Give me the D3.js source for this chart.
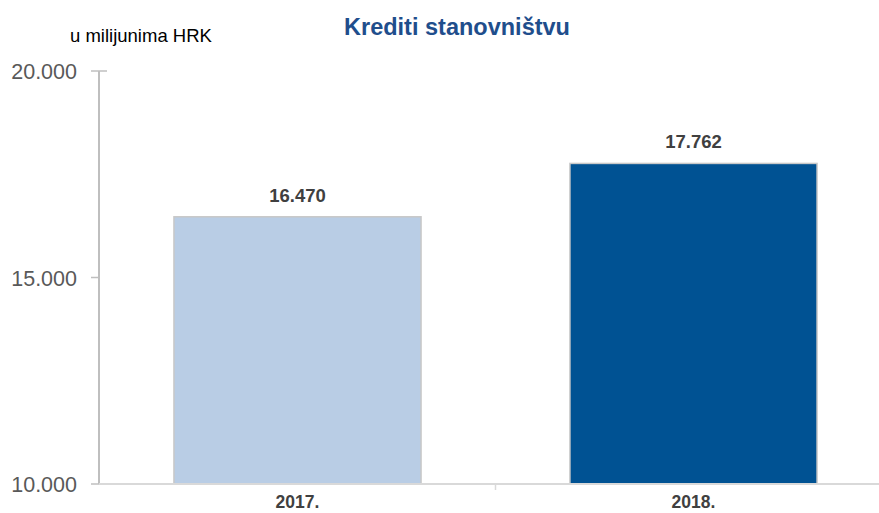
<!DOCTYPE html>
<html>
<head>
<meta charset="utf-8">
<script src="https://cdn.jsdelivr.net/npm/d3@7"></script>
<style>
  body { margin: 0; background: #fff; }
  text { font-family: "Liberation Sans", Arial, sans-serif; }
</style>
</head>
<body>
<svg id="chart"></svg>
<script>
const years = ['2017.', '2018.'];
const values = [16470, 17762];
const yTicks = [10000, 15000, 20000];
const barColors = ['#b9cde5', '#005293'];

const width = 879,
  height = 513,
  margin = {top: 71, right: -12, bottom: 29, left: 99};

const svg = d3.select('#chart')
  .attr('width', width)
  .attr('height', height);

const x = d3.scaleBand()
  .domain(years)
  .range([margin.left + 0.5, width - margin.right + 0.5]);

const y = d3.scaleLinear()
  .domain([10000, 20000])
  .range([height - margin.bottom, margin.top]);

const fmt = d => d3.format(',')(d).replace(/,/g, '.');

// y axis
svg.append('line')
  .attr('x1', margin.left).attr('x2', margin.left)
  .attr('y1', y(20000)).attr('y2', y(10000))
  .attr('stroke', '#bfbfbf')
  .attr('stroke-width', 2);

svg.selectAll('.ytick')
  .data(yTicks)
  .enter().append('line')
  .attr('x1', margin.left - 8)
  .attr('x2', d => d === 20000 ? margin.left + 8 : margin.left)
  .attr('y1', d => y(d)).attr('y2', d => y(d))
  .attr('stroke', '#bfbfbf')
  .attr('stroke-width', 1.5);

svg.selectAll('.ylabel')
  .data(yTicks)
  .enter().append('text')
  .attr('x', 77)
  .attr('y', d => y(d) + 8)
  .attr('text-anchor', 'end')
  .attr('fill', '#595959')
  .style('font-size', '21.5px')
  .text(fmt);

// bars
const barW = x.bandwidth() * 0.624;

svg.selectAll('.bar')
  .data(values)
  .enter().append('rect')
  .attr('x', (d, i) => x(years[i]) + (x.bandwidth() - barW) / 2)
  .attr('y', d => y(d))
  .attr('width', barW)
  .attr('height', d => y(10000) - y(d))
  .attr('fill', (d, i) => barColors[i])
  .attr('stroke', '#c8c8c8')
  .attr('stroke-width', 1.5);

svg.selectAll('.val')
  .data(values)
  .enter().append('text')
  .attr('x', (d, i) => x(years[i]) + x.bandwidth() / 2)
  .attr('y', d => y(d) - 15)
  .attr('text-anchor', 'middle')
  .attr('fill', '#404040')
  .style('font-size', '18.5px')
  .style('font-weight', 'bold')
  .text(fmt);

// x axis
svg.append('line')
  .attr('x1', margin.left).attr('x2', width)
  .attr('y1', y(10000)).attr('y2', y(10000))
  .attr('stroke', '#d9d9d9')
  .attr('stroke-width', 2);

svg.append('line')
  .attr('x1', x(years[1])).attr('x2', x(years[1]))
  .attr('y1', y(10000)).attr('y2', y(10000) + 6)
  .attr('stroke', '#d9d9d9')
  .attr('stroke-width', 1.5);

svg.selectAll('.xlabel')
  .data(years)
  .enter().append('text')
  .attr('x', d => x(d) + x.bandwidth() / 2)
  .attr('y', height - 5)
  .attr('text-anchor', 'middle')
  .attr('fill', '#404040')
  .style('font-size', '17.5px')
  .style('font-weight', 'bold')
  .text(d => d);

// titles
svg.append('text')
  .attr('x', 457)
  .attr('y', 35)
  .attr('text-anchor', 'middle')
  .attr('fill', '#1f4e8c')
  .style('font-size', '23.5px')
  .style('font-weight', 'bold')
  .text('Krediti stanovništvu');

svg.append('text')
  .attr('x', 70)
  .attr('y', 42)
  .attr('fill', '#000')
  .style('font-size', '18.5px')
  .text('u milijunima HRK');
</script>
</body>
</html>
